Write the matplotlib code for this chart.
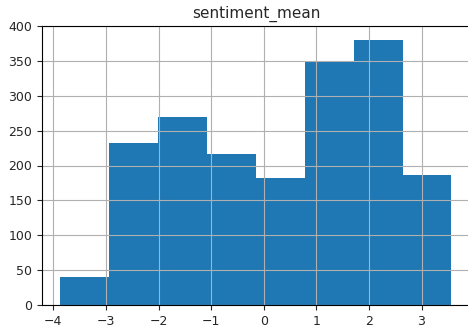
import matplotlib
matplotlib.use("Agg")
import matplotlib.pyplot as plt
import numpy as np

# histogram of the per-item mean sentiment (8 bins)
bin_edges = [-3.87, -2.94, -2.01, -1.08, -0.15, 0.78, 1.71, 2.64, 3.57]
counts = [41, 232, 270, 217, 182, 348, 380, 186]
x_ticks = [-4, -3, -2, -1, 0, 1, 2, 3]
y_ticks = [0, 50, 100, 150, 200, 250, 300, 350, 400]

W, H = 468, 329
fig = plt.figure(figsize=(W / 100, H / 100), dpi=100)
# axes runs past the right edge of the canvas; x scale is ~52.6 px per unit
x_left, px_per_unit = -4.215, 52.6
right_px = 490
ax = fig.add_axes([42 / W, (H - 305.3) / H, (right_px - 42) / W, (305.3 - 25.7) / H])

edges = np.array(bin_edges)
centers = (edges[:-1] + edges[1:]) / 2
ax.hist(centers, bins=edges, weights=counts, color="#1f77b4")

ax.grid(True, color="#b0b0b0", linewidth=0.8)
ax.set_xticks(x_ticks)
ax.set_yticks(y_ticks)
ax.set_ylim(0, 400)
ax.set_xlim(x_left, x_left + (right_px - 42) / px_per_unit)
ax.spines["right"].set_visible(False)
ax.tick_params(labelsize=9, colors="#262626", labelcolor="#262626")
ax.set_title("sentiment_mean", fontsize=11, color="#262626",
             x=(471.5 - 42) / 2 / (right_px - 42))

fig.savefig("out.png", dpi=100)
